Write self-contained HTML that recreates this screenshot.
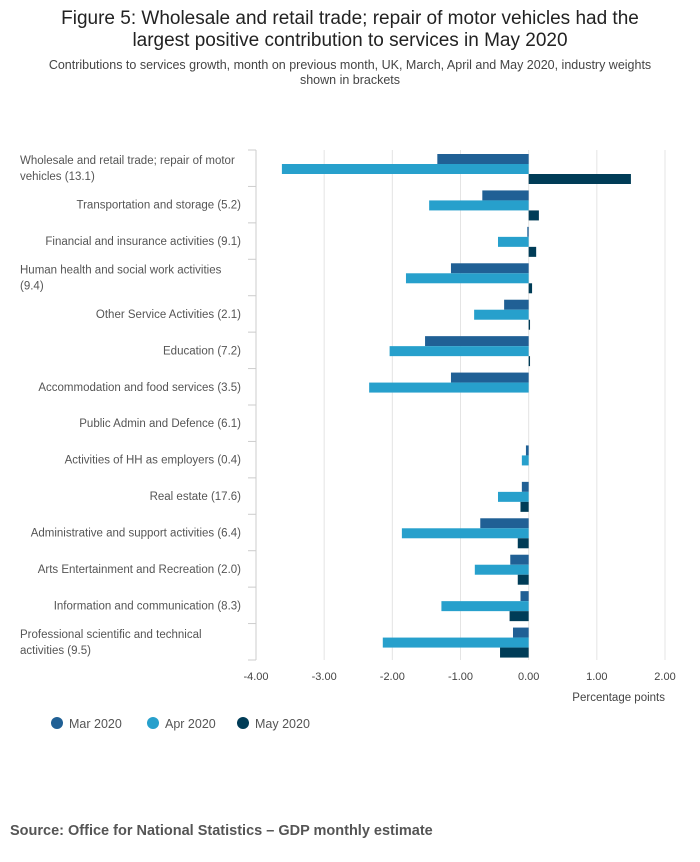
<!DOCTYPE html>
<html><head><meta charset="utf-8"><style>
body{margin:0;background:#fff;font-family:"Liberation Sans",sans-serif;}
svg text{font-family:"Liberation Sans",sans-serif;}
</style></head><body>
<svg id="c" width="700" height="857" xmlns="http://www.w3.org/2000/svg">
<text x="350" y="24" text-anchor="middle" font-size="19" fill="#222">Figure 5: Wholesale and retail trade; repair of motor vehicles had the</text>
<text x="350" y="46" text-anchor="middle" font-size="19" fill="#222">largest positive contribution to services in May 2020</text>
<text x="350" y="69" text-anchor="middle" font-size="12.5" fill="#444">Contributions to services growth, month on previous month, UK, March, April and May 2020, industry weights</text>
<text x="350" y="84" text-anchor="middle" font-size="12.5" fill="#444">shown in brackets</text>
<g id="grid"></g><g id="bars"></g><g id="labels"></g>
<text x="665" y="701" text-anchor="end" font-size="11.5" fill="#444">Percentage points</text>
<g id="legend"></g>
<text x="10" y="835" font-size="14.5" font-weight="bold" fill="#555">Source: Office for National Statistics – GDP monthly estimate</text>
</svg>
<script>
const categories=[["Wholesale and retail trade; repair of motor","vehicles (13.1)"],["Transportation and storage (5.2)"],["Financial and insurance activities (9.1)"],["Human health and social work activities","(9.4)"],["Other Service Activities (2.1)"],["Education (7.2)"],["Accommodation and food services (3.5)"],["Public Admin and Defence (6.1)"],["Activities of HH as employers (0.4)"],["Real estate (17.6)"],["Administrative and support activities (6.4)"],["Arts Entertainment and Recreation (2.0)"],["Information and communication (8.3)"],["Professional scientific and technical","activities (9.5)"]];
const seriesNames=["Mar 2020","Apr 2020","May 2020"];
const mar=[-1.34,-0.68,-0.02,-1.14,-0.36,-1.52,-1.14,0,-0.04,-0.1,-0.71,-0.27,-0.12,-0.23];
const apr=[-3.62,-1.46,-0.45,-1.8,-0.8,-2.04,-2.34,0,-0.1,-0.45,-1.86,-0.79,-1.28,-2.14];
const may=[1.5,0.15,0.11,0.05,0.02,0.02,0,0,0,-0.12,-0.16,-0.16,-0.28,-0.42];
const ticks=[-4,-3,-2,-1,0,1,2];
const tickLabels=["-4.00","-3.00","-2.00","-1.00","0.00","1.00","2.00"];
const colors=["#206095","#27a0cc","#003c57"];
const NS="http://www.w3.org/2000/svg";
const X0=256,X1=665,Y0=150,Y1=660;
const x=v=>X0+(v+4)/6*(X1-X0);
const rowH=(Y1-Y0)/categories.length;
function mk(p,t,a){const e=document.createElementNS(NS,t);for(const k in a)e.setAttribute(k,a[k]);p.appendChild(e);return e;}
const grid=document.getElementById('grid'),bars=document.getElementById('bars'),labels=document.getElementById('labels'),legend=document.getElementById('legend');
ticks.forEach((t,i)=>{
 if(i>0){const l=mk(grid,'line',{x1:x(t),x2:x(t),y1:Y0,y2:Y1,stroke:'#e4e4e4'});
 
 }
 const tx=mk(grid,'text',{x:x(t),y:680,'text-anchor':'middle','font-size':11,fill:'#444'});tx.textContent=tickLabels[i];
 
 
});
const ax=mk(grid,'line',{x1:X0,x2:X0,y1:Y0,y2:Y1,stroke:'#ccc'});


for(let i=0;i<=categories.length;i++){const tk=mk(grid,'line',{x1:X0-8,x2:X0,y1:Y0+i*rowH,y2:Y0+i*rowH,stroke:'#ccc'});
 
 }
const series=[mar,apr,may];
categories.forEach((c,i)=>{
 const top=Y0+i*rowH;
 series.forEach((s,j)=>{
  const v=s[i];if(v===0)return;
  const r=mk(bars,'rect',{x:Math.min(x(0),x(v)),y:top+4+j*10,width:Math.abs(x(v)-x(0)),height:10,fill:colors[j]});
  
  
 });
 const cy=top+rowH/2+4;
 if(c.length===1){const t=mk(labels,'text',{x:241,y:cy,'text-anchor':'end','font-size':11.5,fill:'#555'});t.textContent=c[0];
  
  }
 else c.forEach((ln,k)=>{const t=mk(labels,'text',{x:20,y:cy-8+k*16,'font-size':11.5,fill:'#555'});t.textContent=ln;
  
  });
});
const lx=[57,153,243];
seriesNames.forEach((n,j)=>{
 const cc=mk(legend,'circle',{cx:lx[j],cy:723,r:6,fill:colors[j]});
 
 
 const t=mk(legend,'text',{x:lx[j]+12,y:728,'font-size':12.5,fill:'#555'});t.textContent=n;
 
 
});
</script>
</body></html>
